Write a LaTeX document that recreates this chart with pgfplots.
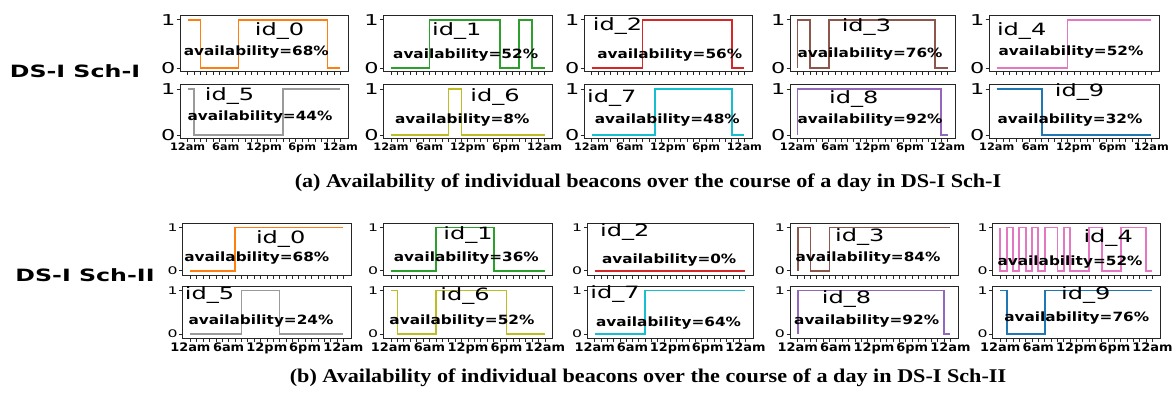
\documentclass[border=0pt]{standalone}
\usepackage{pgfplots}
\pgfplotsset{compat=1.18}
\usepackage{pgfplotstable}
\usepackage{fontspec}
\setmainfont{Liberation Serif}
\newfontfamily\capfont[FakeStretch=1.14]{Liberation Serif}
\newfontfamily\idfont[FakeStretch=1.42]{DejaVu Sans}
\newfontfamily\avfont[FakeStretch=1.2]{DejaVu Sans}
\newfontfamily\rowfont[FakeStretch=1.4]{DejaVu Sans}
\newfontfamily\ytfont[FakeStretch=1.5]{DejaVu Sans}
\newfontfamily\xtfont[FakeStretch=1.1]{DejaVu Sans}
\definecolor{c0}{HTML}{FF7F0E}
\definecolor{c1}{HTML}{2CA02C}
\definecolor{c2}{HTML}{D62728}
\definecolor{c3}{HTML}{8C564B}
\definecolor{c4}{HTML}{E377C2}
\definecolor{c5}{HTML}{9A9A9A}
\definecolor{c6}{HTML}{BCBD22}
\definecolor{c7}{HTML}{17BECF}
\definecolor{c8}{HTML}{9467BD}
\definecolor{c9}{HTML}{1F77B4}
% hourly availability (value holds on the hour ending at h)
\pgfplotstableread{
h  a0 a1 a2 a3 a4 a5 a6 a7 a8 a9 b0 b1 b2 b3 b4 b5 b6 b7 b8 b9
0  1  0  0  0  0  1  0  0  0  1  0  0  0  0  1  0  1  0  0  1
1  1  0  0  1  0  1  0  0  1  1  0  0  0  1  0  0  1  0  1  1
2  1  0  0  1  0  0  0  0  1  1  0  0  0  1  1  0  0  0  1  0
3  0  0  0  0  0  0  0  0  1  1  0  0  0  0  0  0  0  0  1  0
4  0  0  0  0  0  0  0  0  1  1  0  0  0  0  1  0  0  0  1  0
5  0  0  0  0  0  0  0  0  1  1  0  0  0  0  0  0  0  0  1  0
6  0  0  0  1  0  0  0  0  1  1  0  0  0  1  1  0  0  0  1  0
7  0  1  0  1  0  0  0  0  1  1  0  0  0  1  0  0  0  0  1  0
8  0  1  0  1  0  0  0  0  1  0  1  1  0  1  1  0  1  0  1  1
9  1  1  1  1  0  0  0  0  1  0  1  1  0  1  1  1  1  1  1  1
10 1  1  1  1  0  0  1  0  1  0  1  1  0  1  0  1  1  1  1  1
11 1  1  1  1  0  0  1  1  1  0  1  1  0  1  1  1  1  1  1  1
12 1  1  1  1  1  0  0  1  1  0  1  1  0  1  0  1  1  1  1  1
13 1  1  1  1  1  0  0  1  1  0  1  1  0  1  0  1  1  1  1  1
14 1  1  1  1  1  0  0  1  1  0  1  1  0  1  0  1  1  1  1  1
15 1  1  1  1  1  0  0  1  1  0  1  1  0  1  1  0  1  1  1  1
16 1  1  1  1  1  1  0  1  1  0  1  1  0  1  1  0  1  1  1  1
17 1  1  1  1  1  1  0  1  1  0  1  0  0  1  0  0  1  1  1  1
18 1  0  1  1  1  1  0  1  1  0  1  0  0  1  0  0  1  1  1  1
19 1  0  1  1  1  1  0  1  1  0  1  0  0  1  0  0  0  1  1  1
20 1  0  1  1  1  1  0  1  1  0  1  0  0  1  1  0  0  1  1  1
21 1  1  1  1  1  1  0  1  1  0  1  0  0  1  1  0  0  1  1  1
22 1  1  1  1  1  1  0  1  1  0  1  0  0  1  1  0  0  1  1  1
23 0  0  0  0  1  1  0  0  1  0  1  0  0  1  1  0  0  1  1  1
24 0  0  0  0  1  1  0  0  0  0  1  0  0  1  0  0  0  1  0  1
}\avail

\pgfplotsset{
 beacon/.style={scale only axis, anchor=north west, xmin=-1.2, xmax=25.2,
   xtick={0,...,24}, ytick={0,1}, yticklabels={0,1}, xticklabels={},
   tick pos=left, tick align=outside, major tick length=3.5bp,
   axis line style={line width=0.9bp, black!85},
   every tick/.style={black!85, line width=0.7bp},
   no markers, clip=false},
 schI/.style={beacon, ymin=-0.07, ymax=1.1,
   yticklabel style={font=\ytfont\fontsize{15}{15}\selectfont, inner sep=1bp}},
 schII/.style={beacon, ymin=-0.1, ymax=1.1,
   yticklabel style={font=\ytfont\fontsize{10.5}{10.5}\selectfont, inner sep=1.5bp}},
 labI/.style={xticklabels={12am,,,,,,6am,,,,,,12pm,,,,,,6pm,,,,,,12am},
   xticklabel style={font=\xtfont\bfseries\fontsize{10.3}{10.3}\selectfont, inner sep=1bp}},
 labII/.style={xticklabels={12am,,,,,,6am,,,,,,12pm,,,,,,6pm,,,,,,12am},
   xticklabel style={font=\xtfont\bfseries\fontsize{11.8}{11.8}\selectfont, inner sep=1bp}},
 dl/.style={const plot mark right, line width=1.7bp, draw=#1, color=#1},
}
\newcommand{\idlab}[3]{\node[font=\idfont\fontsize{17}{17}\selectfont, inner sep=0pt] at (rel axis cs:#1,#2) {#3};}
\newcommand{\avlab}[3]{\node[font=\avfont\bfseries\fontsize{12.8}{12.8}\selectfont, inner sep=0pt] at (rel axis cs:#1,#2) {availability=#3\%};}

\begin{document}
\begin{tikzpicture}[x=1bp,y=1bp]
\useasboundingbox (0,0) rectangle (1176,394);

\node[font=\rowfont\bfseries\fontsize{17}{17}\selectfont] at (75,323) {DS-I Sch-I};
\node[font=\rowfont\bfseries\fontsize{17}{17}\selectfont] at (85,119) {DS-I Sch-II};
\node[font=\capfont\bfseries\fontsize{19.5}{19.5}\selectfont] at (648,211) {(a) Availability of individual beacons over the course of a day in DS-I Sch-I};
\node[font=\capfont\bfseries\fontsize{19.5}{19.5}\selectfont] at (648,16) {(b) Availability of individual beacons over the course of a day in DS-I Sch-II};

% ---------- Sch-I row 1
\begin{axis}[schI, at={(180bp,379bp)}, width=168bp, height=56.5bp]
\addplot[dl=c0] table[x=h,y=a0]{\avail};
\idlab{0.593}{0.72}{id\_0}\avlab{0.454}{0.34}{68}
\end{axis}
\begin{axis}[schI, at={(383.3bp,379bp)}, width=169bp, height=56.5bp]
\addplot[dl=c1] table[x=h,y=a1]{\avail};
\idlab{0.435}{0.72}{id\_1}\avlab{0.487}{0.29}{52}
\end{axis}
\begin{axis}[schI, at={(584bp,379bp)}, width=168bp, height=56.5bp]
\addplot[dl=c2] table[x=h,y=a2]{\avail};
\idlab{0.20}{0.81}{id\_2}\avlab{0.51}{0.29}{56}
\end{axis}
\begin{axis}[schI, at={(790bp,379bp)}, width=165bp, height=56.5bp]
\addplot[dl=c3] table[x=h,y=a3]{\avail};
\idlab{0.463}{0.79}{id\_3}\avlab{0.485}{0.31}{76}
\end{axis}
\begin{axis}[schI, at={(989bp,379bp)}, width=170bp, height=56.5bp]
\addplot[dl=c4] table[x=h,y=a4]{\avail};
\idlab{0.192}{0.72}{id\_4}\avlab{0.482}{0.35}{52}
\end{axis}
% ---------- Sch-I row 2
\begin{axis}[schI, labI, at={(180bp,309.5bp)}, width=168bp, height=54bp]
\addplot[dl=c5] table[x=h,y=a5]{\avail};
\idlab{0.295}{0.79}{id\_5}\avlab{0.476}{0.40}{44}
\end{axis}
\begin{axis}[schI, labI, at={(383.3bp,309.5bp)}, width=169bp, height=54bp]
\addplot[dl=c6] table[x=h,y=a6]{\avail};
\idlab{0.661}{0.77}{id\_6}\avlab{0.467}{0.35}{8}
\end{axis}
\begin{axis}[schI, labI, at={(584bp,309.5bp)}, width=168bp, height=54bp]
\addplot[dl=c7] table[x=h,y=a7]{\avail};
\idlab{0.165}{0.75}{id\_7}\avlab{0.496}{0.35}{48}
\end{axis}
\begin{axis}[schI, labI, at={(790bp,309.5bp)}, width=165bp, height=54bp]
\addplot[dl=c8] table[x=h,y=a8]{\avail};
\idlab{0.386}{0.73}{id\_8}\avlab{0.485}{0.35}{92}
\end{axis}
\begin{axis}[schI, labI, at={(989bp,309.5bp)}, width=170bp, height=54bp]
\addplot[dl=c9] table[x=h,y=a9]{\avail};
\idlab{0.533}{0.86}{id\_9}\avlab{0.476}{0.35}{32}
\end{axis}
% ---------- Sch-II row 1
\begin{axis}[schII, at={(182.7bp,170.7bp)}, width=168.3bp, height=51.7bp]
\addplot[dl=c0] table[x=h,y=b0]{\avail};
\idlab{0.582}{0.69}{id\_0}\avlab{0.44}{0.32}{68}
\end{axis}
\begin{axis}[schII, at={(383.3bp,170.7bp)}, width=169.4bp, height=51.7bp]
\addplot[dl=c1] table[x=h,y=b1]{\avail};
\idlab{0.50}{0.77}{id\_1}\avlab{0.49}{0.32}{36}
\end{axis}
\begin{axis}[schII, at={(587.3bp,170.7bp)}, width=165.7bp, height=51.7bp]
\addplot[dl=c2] table[x=h,y=b2]{\avail};
\idlab{0.226}{0.84}{id\_2}\avlab{0.494}{0.29}{0}
\end{axis}
\begin{axis}[schII, at={(790bp,170.7bp)}, width=168bp, height=51.7bp]
\addplot[dl=c3] table[x=h,y=b3]{\avail};
\idlab{0.415}{0.74}{id\_3}\avlab{0.464}{0.32}{84}
\end{axis}
\begin{axis}[schII, at={(992.7bp,170.7bp)}, width=167.3bp, height=51.7bp]
\addplot[dl=c4] table[x=h,y=b4]{\avail};
\idlab{0.69}{0.72}{id\_4}\avlab{0.462}{0.26}{52}
\end{axis}
% ---------- Sch-II row 2
\begin{axis}[schII, labII, at={(182.7bp,108bp)}, width=168.3bp, height=52.3bp]
\addplot[dl=c5] table[x=h,y=b5]{\avail};
\idlab{0.159}{0.83}{id\_5}\avlab{0.465}{0.33}{24}
\end{axis}
\begin{axis}[schII, labII, at={(383.3bp,108bp)}, width=169.4bp, height=52.3bp]
\addplot[dl=c6] table[x=h,y=b6]{\avail};
\idlab{0.483}{0.80}{id\_6}\avlab{0.464}{0.33}{52}
\end{axis}
\begin{axis}[schII, labII, at={(587.3bp,108bp)}, width=165.7bp, height=52.3bp]
\addplot[dl=c7] table[x=h,y=b7]{\avail};
\idlab{0.167}{0.85}{id\_7}\avlab{0.49}{0.29}{64}
\end{axis}
\begin{axis}[schII, labII, at={(790bp,108bp)}, width=168bp, height=52.3bp]
\addplot[dl=c8] table[x=h,y=b8]{\avail};
\idlab{0.337}{0.75}{id\_8}\avlab{0.456}{0.33}{92}
\end{axis}
\begin{axis}[schII, labII, at={(992.7bp,108bp)}, width=167.3bp, height=52.3bp]
\addplot[dl=c9] table[x=h,y=b9]{\avail};
\idlab{0.556}{0.83}{id\_9}\avlab{0.502}{0.38}{76}
\end{axis}
\end{tikzpicture}
\end{document}
